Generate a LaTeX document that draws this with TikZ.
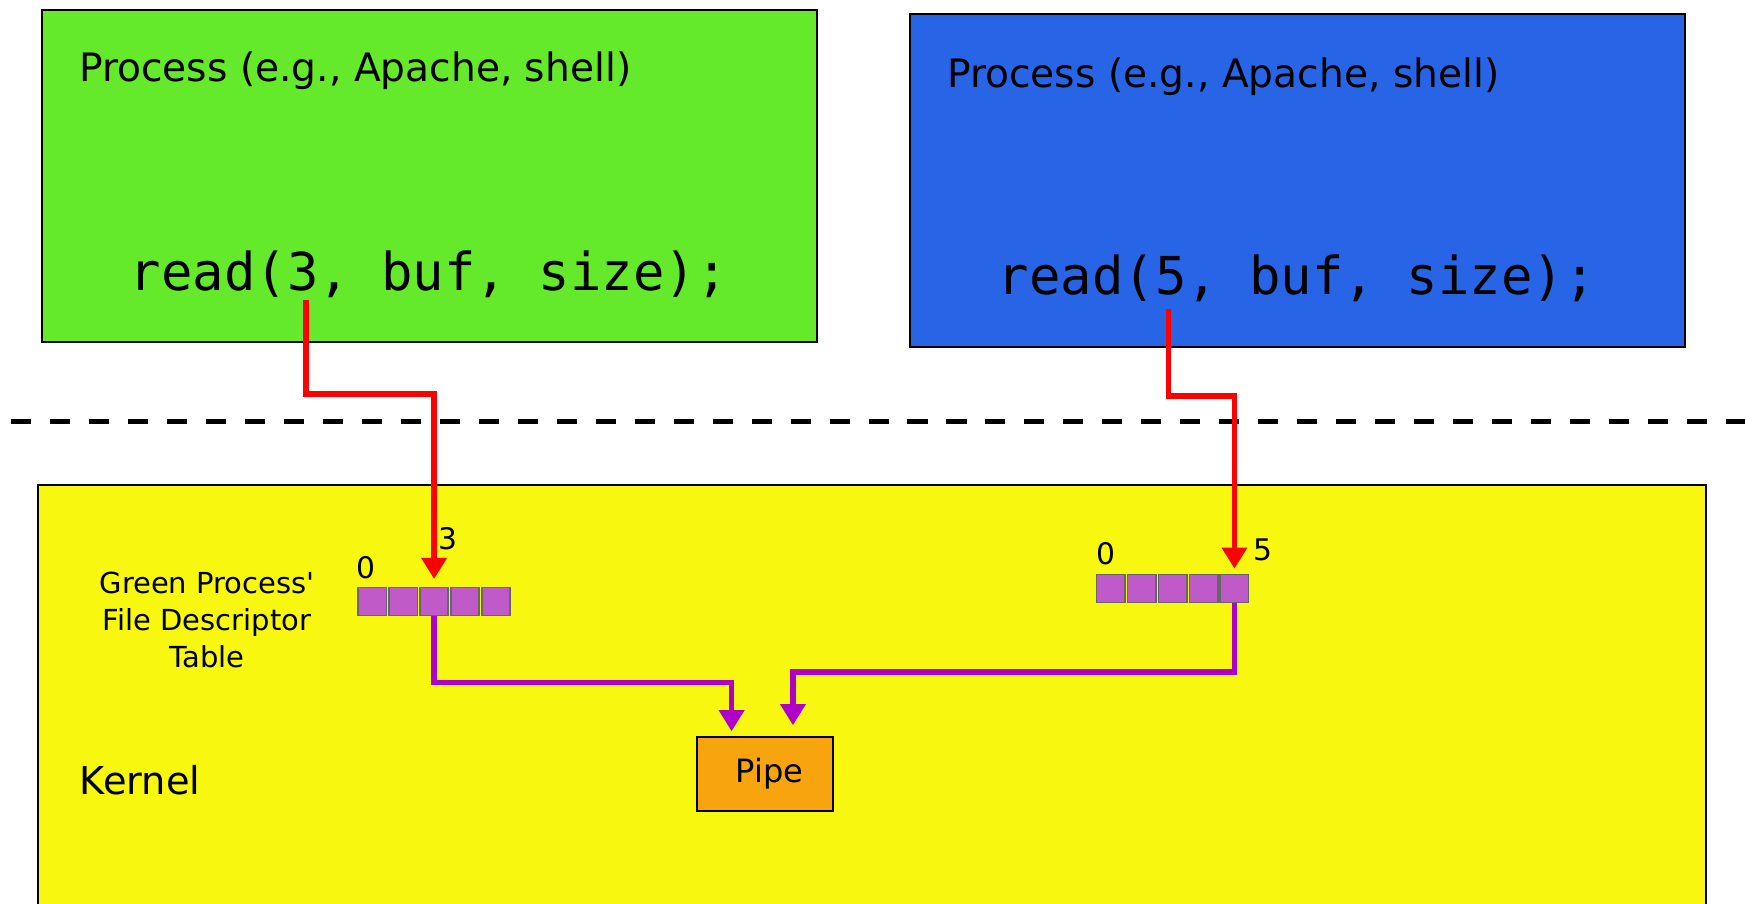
\documentclass[tikz,border=0pt]{standalone}
\usepackage{fontspec}
\setmainfont{DejaVu Sans}
\setmonofont{DejaVu Sans Mono}
\usetikzlibrary{positioning,arrows.meta,calc}
\definecolor{procgreen}{RGB}{100,234,42}
\definecolor{procblue}{RGB}{40,100,230}
\definecolor{kernelyellow}{RGB}{247,247,15}
\definecolor{cellpurple}{RGB}{192,90,200}
\definecolor{pipeorange}{RGB}{247,164,15}
\definecolor{linkpurple}{RGB}{176,0,200}
\tikzstyle{area}      = [draw=black, line width=0.5pt, anchor=north west, inner sep=0pt]
\tikzstyle{fdcell}    = [draw=black!60, line width=0.4pt, fill=cellpurple, inner sep=0pt, minimum width=0.255cm, minimum height=0.25cm]
\tikzstyle{title}     = [anchor=base west, inner sep=0pt, font=\fontsize{10}{12}\selectfont]
\tikzstyle{call}      = [anchor=base west, inner sep=0pt, font=\ttfamily\fontsize{13.35}{15}\selectfont]
\tikzstyle{idx}       = [anchor=base, inner sep=0pt, font=\fontsize{7.6}{9}\selectfont]
\tikzstyle{readarrow} = [red, line width=1.4pt, -{Triangle[length=0.19cm,width=0.22cm]}]
\tikzstyle{linkarrow} = [linkpurple, line width=1.4pt, -{Triangle[length=0.19cm,width=0.22cm]}]

\begin{document}
\begin{tikzpicture}[x=0.01cm, y=-0.01cm]
        \useasboundingbox (0,0) rectangle (1568,812);

        % user space
        \node[area, fill=procgreen, minimum width=6.96cm, minimum height=2.98cm] (greenproc) at (37,8) {};
        \node[area, fill=procblue, minimum width=6.96cm, minimum height=2.99cm] (blueproc) at (817,12) {};
        \node[title] (gtitle) at (70.5,73.5) {Process (e.g., Apache, shell)};
        \node[title] (btitle) at (850.5,78.5) {Process (e.g., Apache, shell)};
        \node[call] (gread) at (116,260.6) {read(3, buf, size);};
        \node[call] (bread) at (896,264.6) {read(5, buf, size);};
        \coordinate (gsrc) at (275,270);
        \coordinate (bsrc) at (1050,278);

        \draw[line width=1.3pt, dash pattern=on 0.18cm off 0.17cm] (10,379) -- (1568,379);

        % kernel
        \node[area, fill=kernelyellow, minimum width=14.98cm, minimum height=4cm] (kernel) at (33,435) {};
        \node[title, font=\fontsize{9.8}{12}\selectfont] (kernellabel) at (71,714) {Kernel};
        \node[align=center, inner sep=0pt, font=\fontsize{7.4}{9.4}\selectfont] (fdlabel) at (186,557) {Green Process\textquotesingle\\File Descriptor\\Table};

        \foreach \i in {1,...,5} {
            \node[fdcell] (gfd\i) at ({334.45+(\i-1)*27.8},540.5) {};
            \node[fdcell] (bfd\i) at ({998.05+(\i-1)*27.8},528.8) {};
        }
        \node[idx] (g0) at (329,519.5) {0};
        \node[idx] (g3) at (402.5,494) {3};
        \node[idx] (b0) at (993.4,507.6) {0};
        \node[idx] (b5) at (1135,504) {5};

        \node[draw=black, line width=0.5pt, fill=pipeorange, minimum width=1.22cm, minimum height=0.66cm, inner sep=0pt, font=\fontsize{8.2}{10}\selectfont] (pipe) at (687.5,695.6) {\hspace{0.08cm}Pipe};

        \draw[readarrow, shorten >=0.07cm] (gsrc) -- ++(0,84) -| (gfd3.north);
        \draw[readarrow, shorten >=0.046cm] (bsrc) -- ++(0,78) -| (bfd5.north);
        \draw[linkarrow, shorten >=0.046cm] (gfd3.south) -- ++(0,59.5) -| ([xshift=0.318cm]pipe.north west);
        \draw[linkarrow, shorten >=0.1cm] (bfd5.south) -- ++(0,62) -| ([xshift=0.869cm]pipe.north west);
    \end{tikzpicture}
\end{document}
